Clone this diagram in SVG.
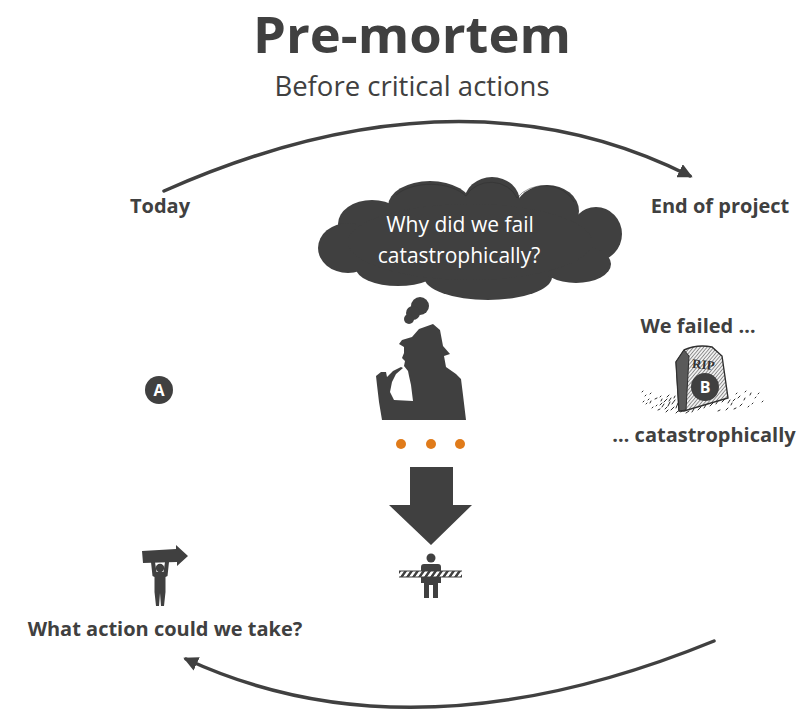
<svg xmlns="http://www.w3.org/2000/svg" width="799" height="712" viewBox="0 0 799 712">
  <style>
    .title { font-family: "Open Sans", "Liberation Sans", sans-serif; font-weight: 700; fill: #404040; }
    .sub { font-family: "Open Sans", "Liberation Sans", sans-serif; font-weight: 400; fill: #404040; }
    .lbl { font-family: "Open Sans", "Liberation Sans", sans-serif; font-weight: 700; font-size: 20px; fill: #404040; }
    .cloudtxt { font-family: "Open Sans", "Liberation Sans", sans-serif; font-size: 21px; fill: #ffffff; }
    .badge { fill: #404040; }
    .badgetxt { font-family: "Open Sans", "Liberation Sans", sans-serif; font-weight: 700; font-size: 16px; fill: #ffffff; }
    .dark { fill: #404040; }
    .flow { fill: none; stroke: #404040; stroke-width: 3.5; stroke-linecap: round; }
    .dot { fill: #e07b1a; }
  </style>
  <defs>
    <marker id="head" viewBox="0 0 10 10" refX="8" refY="5" markerWidth="4.2" markerHeight="4.2" orient="auto" markerUnits="strokeWidth">
      <path d="M0,0 L10,5 L0,10 Z" fill="#404040"/>
    </marker>
    <pattern id="hatch" width="2.6" height="2.6" patternUnits="userSpaceOnUse" patternTransform="rotate(40)">
      <rect width="2.6" height="2.6" fill="#f0f0f0"/>
      <line x1="0" y1="0" x2="0" y2="2.6" stroke="#4a4a4a" stroke-width="1.1"/>
    </pattern>
    <pattern id="stripes" width="6" height="8" patternUnits="userSpaceOnUse" patternTransform="skewX(-35)">
      <rect width="6" height="8" fill="#ffffff"/>
      <rect width="3" height="8" fill="#404040"/>
    </pattern>
  </defs>

  <!-- headings -->
  <text class="title" x="412" y="53" text-anchor="middle" font-size="50" textLength="318" lengthAdjust="spacingAndGlyphs">Pre-mortem</text>
  <text class="sub" x="412" y="96" text-anchor="middle" font-size="27.5">Before critical actions</text>

  <!-- connectors -->
  <g id="connectors">
    <path class="flow" d="M164,191 Q459,60 690,176" marker-end="url(#head)"/>
    <path class="flow" d="M714,641 Q413,764 186,659" marker-end="url(#head)"/>
  </g>

  <!-- start point -->
  <g id="today">
    <text class="lbl" x="160" y="213" text-anchor="middle">Today</text>
    <circle class="badge" cx="159" cy="390" r="14"/>
    <text class="badgetxt" x="159" y="396" text-anchor="middle">A</text>
  </g>

  <!-- end point -->
  <g id="end-of-project">
    <text class="lbl" x="720" y="213" text-anchor="middle">End of project</text>
  </g>

  <!-- thought cloud -->
  <g id="thought-cloud">
    <g class="dark">
      <ellipse cx="372" cy="224" rx="34" ry="24"/>
      <ellipse cx="430" cy="206" rx="42" ry="25"/>
      <ellipse cx="492" cy="202" rx="28" ry="25"/>
      <ellipse cx="547" cy="211" rx="32" ry="26"/>
      <ellipse cx="596" cy="234" rx="26" ry="27"/>
      <ellipse cx="348" cy="248" rx="30" ry="25"/>
      <ellipse cx="398" cy="268" rx="42" ry="18"/>
      <ellipse cx="488" cy="277" rx="64" ry="23"/>
      <ellipse cx="576" cy="264" rx="35" ry="19"/>
      <ellipse cx="470" cy="242" rx="122" ry="38"/>
      <circle cx="420" cy="306" r="9"/>
      <circle cx="413" cy="313" r="7"/>
      <circle cx="409" cy="319" r="5"/>
    </g>
    <g fill="none" stroke="#2e2e2e" stroke-width="0.8" opacity="0.6">
      <path d="M396,195 A42,25 0 0 1 466,196"/>
      <path d="M466,196 A28,25 0 0 1 517,198"/>
      <path d="M517,198 A32,26 0 0 1 574,202"/>
    </g>
    <text class="cloudtxt" x="460" y="232" text-anchor="middle">Why did we fail</text>
    <text class="cloudtxt" x="459" y="263" text-anchor="middle">catastrophically?</text>
  </g>

  <!-- thinker silhouette -->
  <g id="thinker">
    <path class="dark" d="M382,420 L379,402 L377,385 L376,376 L381,372 L386,372 L387,377 L393,371 L401,367 L403,368 L396,374 L392,382 L390,392 L394,400 L413,401 L411,385 L409,376 L408,371 L404,366 L405,361 L402,358 L404,353 L404,347 L399,344 L402,340 L412,337 L419,329 L433,324 L440,330 L443,346 L450,354 L444,356 L446,367 L456,374 L461,379 L463,395 L466,420 Z"/>
    <circle class="dot" cx="401" cy="444" r="5"/>
    <circle class="dot" cx="431" cy="444" r="5"/>
    <circle class="dot" cx="460" cy="444" r="5"/>
  </g>

  <!-- downward arrow -->
  <g id="down-arrow">
    <path class="dark" d="M410,467 L453,467 L453,505 L472,505 L431,545 L389,505 L410,505 Z"/>
  </g>

  <!-- person behind barrier -->
  <g id="barrier">
    <circle class="dark" cx="431" cy="558" r="4.5"/>
    <path class="dark" d="M424,564 L438,564 Q441,564 441,567 L441,583 L438,583 L438,598 L433,598 L433,585 L429,585 L429,598 L424,598 L424,583 L421,583 L421,567 Q421,564 424,564 Z"/>
    <rect x="399" y="571" width="63" height="6" fill="url(#stripes)"/>
    <line x1="399" y1="571" x2="462" y2="571" stroke="#404040" stroke-width="1"/>
    <line x1="399" y1="577" x2="462" y2="577" stroke="#404040" stroke-width="1"/>
  </g>

  <!-- person holding arrow -->
  <g id="action">
    <path class="dark" d="M142,551 L176,549 L176,545 L188,556 L177,566 L177,562 L143,563 Z"/>
    <circle class="dark" cx="160" cy="568" r="4.2"/>
    <path class="dark" d="M151,562 L155,562 L156.5,572 L163.5,572 L165,562 L169,562 L167.5,576 L165.5,577 L165.5,592 L164,606 L161,606 L160,593 L159,606 L156,606 L154.5,592 L154.5,577 L152.5,576 Z"/>
    <text class="lbl" x="165" y="636" text-anchor="middle">What action could we take?</text>
  </g>

  <!-- tombstone -->
  <g id="grave">
    <text class="lbl" x="698" y="333" text-anchor="middle">We failed …</text>
    <g stroke="#2f2f2f" stroke-width="1" stroke-linecap="round">
      <path d="M664,402 l3,-3 M668,406 l2,-4 M672,404 l3,-4 M676,408 l2,-5 M671,410 l3,-3 M665,409 l2,-2 M660,405 l2,-2 M655,399 l2,-1 M650,403 l1,-2 M645,396 l1,-1 M658,410 l2,-1 M686,413 l3,-2 M692,412 l2,-3 M698,410 l3,-3 M704,408 l2,-3 M710,406 l3,-3 M716,404 l2,-3 M722,402 l3,-3 M728,403 l2,-3 M733,401 l2,-2 M738,398 l2,-2 M744,400 l1,-2 M750,395 l1,-2 M755,398 l1,-1 M740,406 l2,-2 M734,409 l2,-1 M726,410 l2,-2 M718,411 l2,-1 M660,397 l1,-1 M646,404 l1,-1 M752,404 l1,-1 M745,392 l1,-1 M681,412 l2,-3 M667,397 l2,-2 M662,407 l2,-3 M669,401 l2,-3 M674,398 l1,-2 M666,412 l2,-2 M661,401 l1,-2 M656,406 l1,-1 M652,408 l1,-1 M648,400 l1,-1 M643,402 l1,-1 M676,413 l2,-2 M731,405 l1,-2 M736,394 l1,-1 M748,407 l1,-1 M758,394 l1,-1 M762,402 l1,-1 M642,392 l1,-1 M650,394 l1,-1"/>
    </g>
    <path d="M676,362 L684,350 Q697,344 712,347 L722,356 L728,398 L684,411 L679,411 Z" fill="url(#hatch)" stroke="#2f2f2f" stroke-width="1.4"/>
    <path d="M676,362 L684,350 L689,356 L686,410 L679,411 Z" fill="#5a5a5a" stroke="#2f2f2f" stroke-width="1"/>
    <text x="703" y="369" text-anchor="middle" font-family="Liberation Serif, serif" font-weight="700" font-size="13" fill="#333333" transform="rotate(6 703 369)">RIP</text>
    <circle class="badge" cx="705" cy="387" r="14"/>
    <text class="badgetxt" x="705" y="393" text-anchor="middle">B</text>
    <text class="lbl" x="704" y="442" text-anchor="middle">… catastrophically</text>
  </g>
</svg>
